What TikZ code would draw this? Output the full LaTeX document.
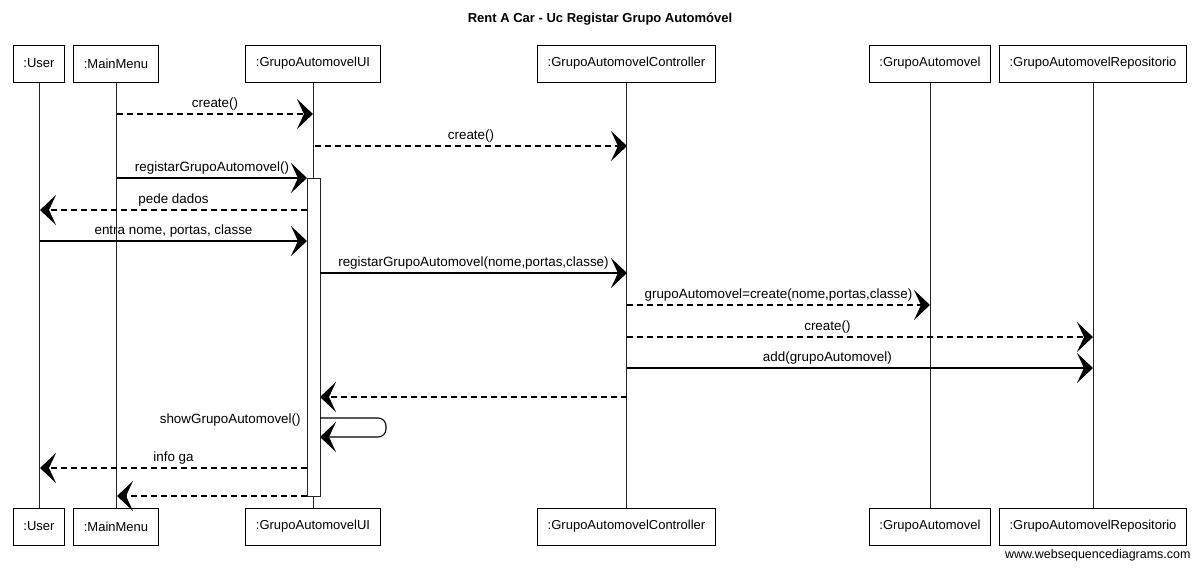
\documentclass[tikz,border=0pt]{standalone}
\usepackage{fontspec}
\setmainfont{Liberation Sans}
\usepackage{tikz}
\usetikzlibrary{arrows.meta}

\begin{document}
\begin{tikzpicture}[x=0.5pt,y=-0.5pt,
    font=\fontsize{6.5}{7.5}\selectfont,
    actor/.style={draw, line width=0.5pt, fill=white,
      minimum height=18.5pt, inner xsep=5pt},
    lifeline/.style={line width=0.45pt, black!85},
    solidmsg/.style={line width=0.55pt,
      -{Stealth[length=8pt,width=15pt,inset=3.5pt]}},
    dashmsg/.style={solidmsg, dash pattern=on 3pt off 2pt},
    msglabel/.style={above, inner sep=1.5pt,
      font=\fontsize{6.7}{7.5}\selectfont}]
    \path[use as bounding box] (0,0) rectangle (1200,568);

    \node[font=\fontsize{6.5}{7.5}\selectfont\bfseries] (title) at (600,19)
      {Rent A Car - Uc Registar Grupo Automóvel};

    % Participants, repeated at the foot of each lifeline.
    \foreach \id/\xpos/\actorname in {usr/39/User, mm/116/MainMenu,
      ui/313/GrupoAutomovelUI, ctl/626.5/GrupoAutomovelController,
      ga/930/GrupoAutomovel, rep/1093/GrupoAutomovelRepositorio} {
      \node[actor] (\id-top) at (\xpos,63.5) {:\actorname};
      \node[actor] (\id-bot) at (\xpos,526.5) {:\actorname};
      \draw[lifeline] (\id-top) -- (\id-bot);
    }

    % Activation of the UI while the use case runs.
    \coordinate (act-nw) at (307,178);
    \coordinate (act-se) at (320,496);
    \draw[lifeline, fill=white] (act-nw) rectangle (act-se);

    % Message end points on the lifelines.
    \coordinate (m1a) at (117,114);  \coordinate (m1b) at (313,114);
    \coordinate (m2a) at (315,146);  \coordinate (m2b) at (627,146);
    \coordinate (m3a) at (117,178);  \coordinate (m3b) at (307,178);
    \coordinate (m4a) at (307,210);  \coordinate (m4b) at (40,210);
    \coordinate (m5a) at (40,241);   \coordinate (m5b) at (307,241);
    \coordinate (m6a) at (320,273);  \coordinate (m6b) at (627,273);
    \coordinate (m7a) at (627,305);  \coordinate (m7b) at (930,305);
    \coordinate (m8a) at (627,337);  \coordinate (m8b) at (1093,337);
    \coordinate (m9a) at (627,368);  \coordinate (m9b) at (1093,368);
    \coordinate (m10a) at (627,397); \coordinate (m10b) at (320,397);
    \coordinate (m11a) at (320,418); \coordinate (m11b) at (320,437);
    \coordinate (m12a) at (307,468); \coordinate (m12b) at (40,468);
    \coordinate (m13a) at (307,496); \coordinate (m13b) at (117,496);

    \draw[dashmsg] (m1a) -- node[msglabel] (l1) {create()} (m1b);
    \draw[dashmsg] (m2a) -- node[msglabel] (l2) {create()} (m2b);
    \draw[solidmsg] (m3a) -- node[msglabel] (l3) {registarGrupoAutomovel()} (m3b);
    \draw[dashmsg] (m4a) -- node[msglabel] (l4) {pede dados} (m4b);
    \draw[solidmsg] (m5a) -- node[msglabel] (l5) {entra nome, portas, classe} (m5b);
    \draw[solidmsg] (m6a) -- node[msglabel] (l6)
      {registarGrupoAutomovel(nome,portas,classe)} (m6b);
    \draw[dashmsg] (m7a) -- node[msglabel] (l7)
      {grupoAutomovel=create(nome,portas,classe)} (m7b);
    \draw[dashmsg] (m8a) -- node[msglabel, pos=0.43] (l8) {create()} (m8b);
    \draw[solidmsg] (m9a) -- node[msglabel, pos=0.43] (l9) {add(grupoAutomovel)} (m9b);
    \draw[dashmsg] (m10a) -- (m10b);

    % Self call of the UI.
    \draw[solidmsg, rounded corners=4pt] (m11a) -- ++(66,0) |- (m11b);
    \node[msglabel, anchor=east] (l11) at (304,420) {showGrupoAutomovel()};

    \draw[dashmsg] (m12a) -- node[msglabel] (l12) {info ga} (m12b);
    \draw[dashmsg] (m13a) -- (m13b);

    \node[anchor=south east, inner sep=0pt, font=\fontsize{6.25}{7}\selectfont]
      (footer) at (1191,561) {www.websequencediagrams.com};
\end{tikzpicture}
\end{document}
